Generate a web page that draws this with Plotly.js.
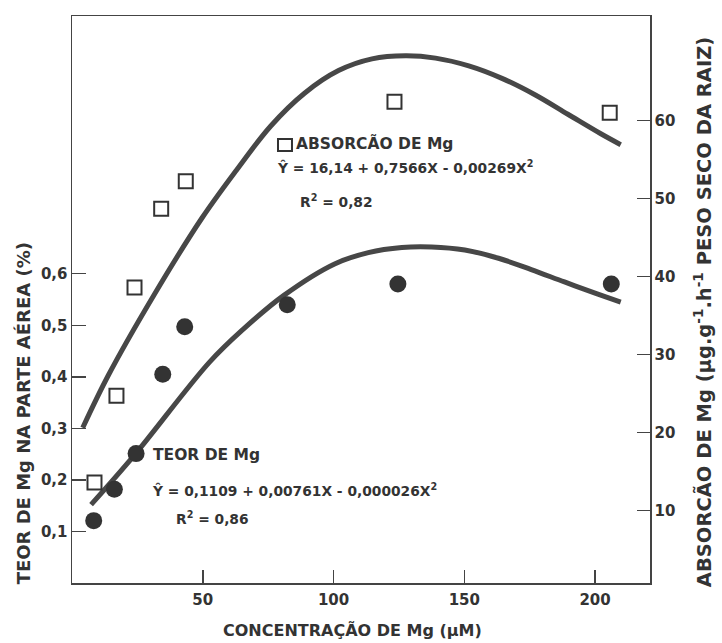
<!DOCTYPE html>
<html><head><meta charset="utf-8">
<script src="https://cdn.plot.ly/plotly-3.0.1.min.js"></script>
<style>html,body{margin:0;padding:0;background:#fff;}#chart{width:722px;height:643px;}</style>
</head><body><div id="chart"></div>
<script>
const absConc = [8.6, 17.0, 23.9, 34.1, 43.5, 123.3, 205.6];
const absValues = [13.6, 24.7, 38.6, 48.7, 52.2, 62.4, 61.0];
const teorConc = [8.3, 16.2, 24.5, 34.7, 43.1, 82.3, 124.6, 206.2];
const teorValues = [0.121, 0.182, 0.251, 0.405, 0.497, 0.540, 0.580, 0.580];
// Fitted curves as drawn in the figure (read point by point)
const absCurveX = [4.1, 14.0, 31.3, 49.7, 62.8, 76.0, 88.9, 101.9, 114.7, 127.5, 139.0, 151.7, 164.4, 177.0, 189.6, 202.2, 209.8];
const absCurveY = [20.6, 27.4, 37.6, 47.5, 53.6, 59.3, 63.5, 66.4, 67.9, 68.3, 68.0, 67.0, 65.4, 63.3, 60.8, 58.3, 56.9];
const teorCurveX = [7.3, 23.7, 52.5, 65.4, 81.0, 100.4, 113.3, 126.1, 137.5, 150.2, 163.1, 175.6, 188.3, 200.8, 209.8];
const teorCurveY = [0.152, 0.247, 0.428, 0.492, 0.558, 0.619, 0.641, 0.651, 0.652, 0.646, 0.630, 0.608, 0.584, 0.561, 0.545];
// Ticks
const xTickVals = [50, 100, 150, 200];
const xTickText = ['50', '100', '150', '200'];
const teorTickVals = [0.1, 0.2, 0.3, 0.4, 0.5, 0.6];
const teorTickText = ['0,1', '0,2', '0,3', '0,4', '0,5', '0,6'];
const absTickVals = [10, 20, 30, 40, 50, 60];
const absTickText = ['10', '20', '30', '40', '50', '60'];

const ink = '#333333';
const font = 'DejaVu Sans, sans-serif';

const traces = [
  {x: absCurveX, y: absCurveY, yaxis: 'y2', mode: 'lines', line: {color: '#474747', width: 5, shape: 'spline', smoothing: 1}, hoverinfo: 'skip'},
  {x: teorCurveX, y: teorCurveY, yaxis: 'y', mode: 'lines', line: {color: '#474747', width: 5, shape: 'spline', smoothing: 1}, hoverinfo: 'skip'},
  {x: absConc, y: absValues, yaxis: 'y2', mode: 'markers', marker: {symbol: 'square-open', size: 14, color: ink, line: {width: 2, color: ink}}},
  {x: teorConc, y: teorValues, yaxis: 'y', mode: 'markers', marker: {symbol: 'circle', size: 17, color: ink}}
];

function ann(text, x, y, size, extra) {
  return Object.assign({text: text, x: x, y: y, xref: 'paper', yref: 'paper', showarrow: false,
    xanchor: 'left', yanchor: 'middle', font: {family: font, size: size, color: ink, weight: 'bold'}}, extra || {});
}

const tickFont = {family: font, size: 15, color: ink, weight: 'bold'};

const layout = {
  width: 722, height: 643,
  margin: {l: 72, r: 72, t: 16, b: 60},
  paper_bgcolor: '#fff', plot_bgcolor: '#fff',
  showlegend: false,
  xaxis: {range: [0, 221], showline: true, mirror: true, linecolor: '#444', linewidth: 1.5,
    ticks: 'inside', ticklen: 13, tickwidth: 1.5, tickcolor: '#444', showgrid: false, zeroline: false,
    tickvals: xTickVals, ticktext: xTickText, tickfont: tickFont, ticklabelstandoff: 2},
  yaxis: {range: [0, 1.1], showline: true, linecolor: '#444', linewidth: 1.5,
    ticks: 'inside', ticklen: 14, tickwidth: 1.5, tickcolor: '#444', showgrid: false, zeroline: false,
    tickvals: teorTickVals, ticktext: teorTickText, tickfont: tickFont},
  yaxis2: {range: [0.7, 73.4], overlaying: 'y', side: 'right', showline: true, linecolor: '#444', linewidth: 1.5,
    ticks: 'inside', ticklen: 13, tickwidth: 1.5, tickcolor: '#444', showgrid: false, zeroline: false,
    tickvals: absTickVals, ticktext: absTickText, tickfont: tickFont},
  shapes: [
    {type: 'rect', xref: 'paper', yref: 'paper', x0: 0.3564, x1: 0.3806, y0: 0.762, y1: 0.783,
     line: {color: ink, width: 2}, fillcolor: 'rgba(0,0,0,0)'}
  ],
  annotations: [
    ann('ABSORCÃO DE Mg', 0.384, 0.775, 15.5),
    ann('Ŷ = 16,14 + 0,7566X - 0,00269X<sup>2</sup>', 0.352, 0.734, 13.8),
    ann('R<sup>2</sup> = 0,82', 0.391, 0.674, 13.8),
    ann('TEOR DE Mg', 0.137, 0.226, 15.5),
    ann('Ŷ = 0,1109 + 0,00761X - 0,000026X<sup>2</sup>', 0.135, 0.164, 13.8),
    ann('R<sup>2</sup> = 0,86', 0.177, 0.114, 13.8),
    ann('CONCENTRAÇÃO DE Mg (μM)', 0.486, -0.083, 16, {xanchor: 'center'}),
    ann('TEOR DE Mg NA PARTE AÉREA (%)', -0.084, 0.300, 18, {xanchor: 'center', textangle: -90}),
    ann('ABSORCÃO DE Mg (μg.g<sup>-1</sup>.h<sup>-1</sup> PESO SECO DA RAIZ)', 1.092, 0.478, 19.5, {xanchor: 'center', textangle: -90})
  ]
};

Plotly.newPlot('chart', traces, layout, {displayModeBar: false, staticPlot: true});
</script></body></html>
